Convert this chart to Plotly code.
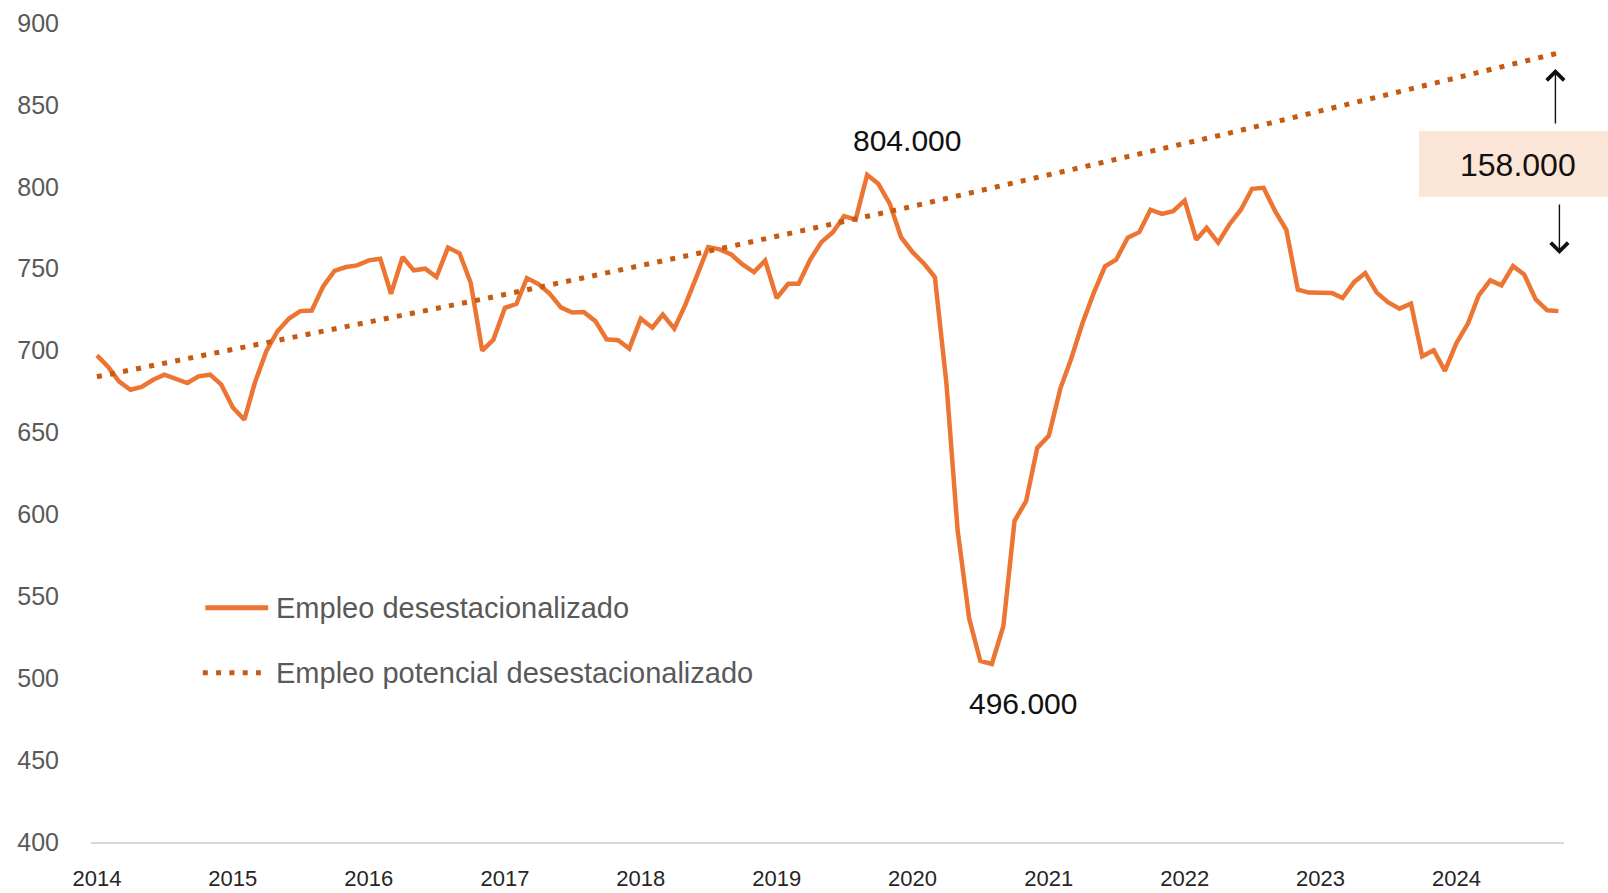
import plotly.graph_objects as go
import pandas as pd

# monthly series, Jan 2014 - Oct 2024 (thousands)
months = pd.date_range("2014-01-01", "2024-10-01", freq="MS")

empleo = [
    697.1, 689.8, 681.2, 676.1, 677.8, 682.2, 685.3, 682.9, 680.2, 684.3, 685.3, 679.2,
    665.3, 657.8, 680.2, 699.6, 711.8, 719.6, 724.1, 724.5, 739.4, 748.6, 751.0, 752.0,
    755.1, 756.1, 734.7, 757.1, 749.0, 750.0, 744.9, 762.9, 759.4, 741.4, 700.0, 706.7,
    726.1, 728.6, 744.3, 740.6, 734.8, 726.2, 723.2, 723.5, 718.0, 706.9, 706.3, 701.2,
    719.5, 714.0, 722.0, 713.4, 728.2, 745.9, 763.2, 761.8, 758.7, 752.6, 747.9, 755.0,
    732.1, 740.8, 740.8, 755.5, 766.2, 772.3, 782.1, 780.0, 807.3, 801.8, 789.6, 769.3,
    760.1, 753.0, 744.9, 679.9, 590.4, 536.6, 510.5, 508.7, 531.9, 596.1, 608.1, 640.6,
    648.0, 676.8, 694.3, 716.4, 734.8, 751.4, 755.5, 768.9, 772.3, 786.0, 783.5, 785.1,
    791.6, 767.7, 775.0, 765.9, 777.0, 786.0, 798.8, 799.4, 785.1, 773.8, 737.2, 735.4,
    735.1, 735.1, 732.1, 741.8, 747.3, 735.4, 729.6, 725.6, 728.7, 696.5, 700.2, 687.6,
    704.6, 716.5, 733.7, 742.9, 739.8, 751.6, 746.5, 731.3, 724.6, 724.1,
]

potencial = [
    684.0, 685.4, 686.7, 688.1, 689.4, 690.8, 692.2, 693.5, 694.9, 696.2, 697.6, 699.0,
    700.3, 701.7, 703.1, 704.5, 705.9, 707.3, 708.7, 710.1, 711.5, 712.9, 714.3, 715.7,
    717.1, 718.5, 719.9, 721.4, 722.8, 724.2, 725.7, 727.1, 728.5, 729.9, 731.4, 732.8,
    734.2, 735.7, 737.1, 738.6, 740.1, 741.6, 743.0, 744.5, 746.0, 747.4, 748.9, 750.4,
    751.8, 753.3, 754.8, 756.3, 757.8, 759.3, 760.7, 762.2, 763.7, 765.2, 766.7, 768.2,
    769.7, 771.2, 772.8, 774.3, 775.8, 777.4, 778.9, 780.4, 781.9, 783.5, 785.0, 786.5,
    788.1, 789.7, 791.3, 792.8, 794.4, 796.0, 797.6, 799.1, 800.7, 802.3, 803.9, 805.4,
    807.0, 808.6, 810.2, 811.8, 813.4, 815.0, 816.6, 818.2, 819.8, 821.4, 823.0, 824.6,
    826.2, 827.9, 829.5, 831.2, 832.8, 834.5, 836.1, 837.8, 839.4, 841.1, 842.7, 844.4,
    846.0, 847.7, 849.4, 851.0, 852.7, 854.4, 856.1, 857.8, 859.4, 861.1, 862.8, 864.5,
    866.2, 867.9, 869.6, 871.4, 873.1, 874.8, 876.5, 878.2, 880.0, 881.7,
]

years = [str(y) for y in range(2014, 2025)]
year_ticks = [f"{y}-01-01" for y in years]

serie_names = ["Empleo desestacionalizado", "Empleo potencial desestacionalizado"]
peak_label = "804.000"
trough_label = "496.000"
gap_label = "158.000"

FONT = "Liberation Sans, Arial, sans-serif"
ORANGE = "#ED7533"
DARK_ORANGE = "#C55A11"
DOTS = "5px,8.3px"
GREY = "#595959"
INK = "#111111"

fig = go.Figure()
fig.add_trace(go.Scatter(x=months, y=empleo, mode="lines", name=serie_names[0],
                         line=dict(color=ORANGE, width=4.5), hoverinfo="skip"))
fig.add_trace(go.Scatter(x=months, y=potencial, mode="lines", name=serie_names[1],
                         line=dict(color=DARK_ORANGE, width=5, dash=DOTS), hoverinfo="skip"))

i_max = empleo.index(max(empleo))
i_min = empleo.index(min(empleo))

annots = [
    dict(x=months[i_max], y=empleo[i_max], text=peak_label, showarrow=False,
         xanchor="center", yanchor="middle", xshift=40, yshift=34,
         font=dict(size=30, color=INK)),
    dict(x=months[i_min], y=empleo[i_min], text=trough_label, showarrow=False,
         xanchor="center", yanchor="middle", xshift=31, yshift=-40,
         font=dict(size=30, color=INK)),
    # gap arrows
    dict(x=months[-1], y=potencial[-1], text="", showarrow=True, ax=0, ay=72,
         standoff=16, xshift=-3, arrowhead=4, arrowsize=2.4, arrowwidth=1.4, arrowcolor=INK),
    dict(x=months[-1], y=empleo[-1], text="", showarrow=True, ax=0, ay=-108,
         standoff=57, xshift=1, arrowhead=4, arrowsize=2.4, arrowwidth=1.4, arrowcolor=INK),
    dict(xref="paper", yref="paper", x=0.9688, y=0.8264, text=gap_label, showarrow=False,
         xanchor="center", yanchor="middle", font=dict(size=32, color=INK)),
    # legend text
    dict(xref="paper", yref="paper", x=0.1244, y=0.2859, xanchor="left", yanchor="middle",
         text=serie_names[0], showarrow=False, font=dict(size=29, color=GREY)),
    dict(xref="paper", yref="paper", x=0.1244, y=0.2066, xanchor="left", yanchor="middle",
         text=serie_names[1], showarrow=False, font=dict(size=29, color=GREY)),
]

shapes = [
    dict(type="rect", xref="paper", yref="paper", x0=0.9016, x1=1.05, y0=0.7877, y1=0.8682,
         fillcolor="#FBE5D6", line=dict(width=0), layer="below"),
    # legend samples
    dict(type="line", xref="paper", yref="paper", x0=0.0776, x1=0.1203, y0=0.2859, y1=0.2859,
         line=dict(color=ORANGE, width=5)),
    dict(type="line", xref="paper", yref="paper", x0=0.0759, x1=0.1153, y0=0.2066, y1=0.2066,
         line=dict(color=DARK_ORANGE, width=5, dash=DOTS)),
]

fig.update_layout(
    width=1608, height=893,
    margin=dict(l=91, r=44, t=23, b=51),
    paper_bgcolor="white", plot_bgcolor="white",
    font=dict(family=FONT),
    showlegend=False,
    annotations=annots,
    shapes=shapes,
)
fig.update_xaxes(type="date", range=["2013-12-16", "2024-10-16"],
                 tickvals=year_ticks, ticktext=years, automargin=False,
                 showgrid=False, zeroline=False, showline=True,
                 linecolor="#D9D9D9", linewidth=2, ticks="",
                 tickfont=dict(size=22, color="#262626"), ticklabelstandoff=16)
fig.update_yaxes(range=[400, 900], dtick=50, showgrid=False, zeroline=False,
                 showline=False, ticks="", automargin=False,
                 tickfont=dict(size=25, color=GREY), ticklabelstandoff=31)

# drop the default 8px page margin so the figure sits at the window's corner
fig.write_html("out.html", config={"displayModeBar": False},
               post_script="document.body.style.margin='0';document.body.style.overflow='hidden';")
